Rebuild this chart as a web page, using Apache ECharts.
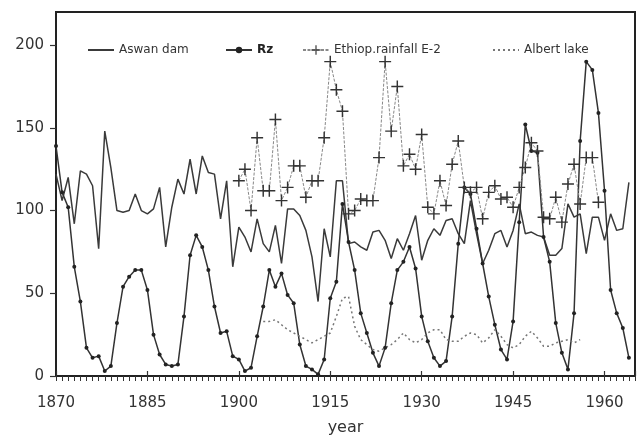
<!DOCTYPE html>
<html>
<head>
<meta charset="utf-8">
<script src="https://cdn.jsdelivr.net/npm/echarts@6/dist/echarts.min.js"></script>
<style>
  html, body { margin: 0; padding: 0; background: #fff; }
  #main { width: 638px; height: 441px; }
</style>
</head>
<body>
<div id="main"></div>
<script>
// yearly values
var aswanStart = 1870;
var aswanDam = [122, 106, 120, 92, 124, 122, 115, 77, 148, 126,
    100, 99, 100, 110, 100, 98, 101, 114, 78, 102,
    119, 110, 131, 110, 133, 123, 122, 95, 118, 66,
    90, 84, 75, 95, 80, 75, 91, 68, 101, 101,
    97, 88, 72, 45, 89, 72, 118, 118, 80, 81,
    78, 76, 87, 88, 82, 71, 83, 76, 86, 97,
    70, 82, 89, 85, 94, 95, 86, 80, 106, 86,
    68, 76, 86, 88, 78, 88, 104, 86, 87, 85,
    84, 73, 73, 77, 104, 96, 98, 74, 96, 96,
    82, 98, 88, 89, 117];

var rzStart = 1870;
var rz = [139, 111, 102, 66, 45, 17, 11, 12, 3, 6,
    32, 54, 60, 64, 64, 52, 25, 13, 7, 6,
    7, 36, 73, 85, 78, 64, 42, 26, 27, 12,
    10, 3, 5, 24, 42, 64, 54, 62, 49, 44,
    19, 6, 4, 1, 10, 47, 57, 104, 81, 64,
    38, 26, 14, 6, 17, 44, 64, 69, 78, 65,
    36, 21, 11, 6, 9, 36, 80, 114, 110, 89,
    68, 48, 31, 16, 10, 33, 93, 152, 136, 135,
    84, 69, 32, 14, 4, 38, 142, 190, 185, 159,
    112, 52, 38, 29, 11];

var ethiopStart = 1900;
var ethiopRain = [118, 125, 100, 144, 112, 112, 155, 106, 114, 127,
    127, 108, 118, 118, 144, 190, 173, 160, 98, 100,
    107, 106, 106, 132, 190, 148, 175, 127, 134, 125,
    146, 102, 98, 118, 103, 128, 142, 114, 111, 114,
    95, 111, 115, 107, 108, 102, 114, 126, 141, 136,
    96, 95, 108, 93, 116, 128, 104, 132, 132, 105];

var albertStart = 1904;
var albertLake = [33, 33, 34, 31, 28, 26, 24, 22, 20, 22,
    24, 26, 36, 47, 48, 30, 22, 19, 16, 15,
    17, 19, 22, 26, 22, 20, 22, 26, 28, 28,
    22, 21, 21, 24, 26, 25, 20, 23, 28, 24,
    19, 17, 19, 24, 27, 23, 18, 18, 20, 21,
    22, 20, 22];

var yTicks = [0, 50, 100, 150, 200];
var xTicks = [1870, 1885, 1900, 1915, 1930, 1945, 1960];

function pairs(start, values) {
    return values.map(function (v, i) { return [start + i, v]; });
}

var plusPath = 'path://M0,4.4H4.4V0H5.6V4.4H10V5.6H5.6V10H4.4V5.6H0Z';
var legendText = { fontFamily: 'DejaVu Sans', fontSize: 12, color: '#333' };
// line-only legend entries: hide the default marker
var noMarker = { color: 'rgba(0,0,0,0)', borderWidth: 0 };

var option = {
    backgroundColor: '#fff',
    animation: false,
    grid: {
        left: 56, right: -3, top: 12, bottom: 59,
        show: true, borderColor: '#222', borderWidth: 2
    },
    legend: [
        { data: [{ name: 'Aswan dam', itemStyle: noMarker }], left: 82, top: 39, itemWidth: 26, itemHeight: 10,
          textStyle: legendText, selectedMode: false },
        { data: ['Rz'], left: 220, top: 39, itemWidth: 26, itemHeight: 8, selectedMode: false,
          textStyle: { fontFamily: 'DejaVu Sans', fontSize: 12, color: '#222', fontWeight: 'bold' } },
        { data: ['Ethiop.rainfall E-2'], left: 297, top: 39, itemWidth: 26, itemHeight: 12,
          textStyle: legendText, selectedMode: false },
        { data: [{ name: 'Albert lake', itemStyle: noMarker }], left: 487, top: 39, itemWidth: 26, itemHeight: 10,
          textStyle: legendText, selectedMode: false }
    ],
    xAxis: [
        {
            type: 'value',
            min: 1870, max: 1965, interval: 1,
            name: 'year', nameLocation: 'middle', nameGap: 44,
            nameTextStyle: { fontFamily: 'DejaVu Sans', fontSize: 16, color: '#333' },
            axisLine: { lineStyle: { color: '#222', width: 2 } },
            axisTick: { length: 5, lineStyle: { color: '#333', width: 1 } },
            axisLabel: {
                margin: 20, fontFamily: 'DejaVu Sans', fontSize: 15, color: '#333',
                formatter: function (v) { return xTicks.indexOf(v) >= 0 ? String(v) : ''; }
            },
            splitLine: { show: false }
        },
        {
            // longer marks at the labelled years
            type: 'value', position: 'bottom',
            min: 1870, max: 1965, interval: 15,
            axisLine: { show: false },
            axisTick: { inside: true, length: 5, lineStyle: { color: '#333', width: 1.2 } },
            axisLabel: { show: false },
            splitLine: { show: false }
        }
    ],
    yAxis: {
        type: 'value',
        min: 0, max: 220, interval: 50,
        axisLine: { show: true, lineStyle: { color: '#222', width: 2 } },
        axisTick: { show: true, length: 6, customValues: yTicks, lineStyle: { color: '#333', width: 1.2 } },
        axisLabel: {
            margin: 12, fontFamily: 'DejaVu Sans', fontSize: 15, color: '#333',
            customValues: yTicks
        },
        splitLine: { show: false }
    },
    series: [
        {
            name: 'Aswan dam', type: 'line',
            data: pairs(aswanStart, aswanDam),
            symbol: 'none',
            lineStyle: { color: '#3a3a3a', width: 1.5 },
            itemStyle: { color: '#3a3a3a' }
        },
        {
            name: 'Rz', type: 'line',
            data: pairs(rzStart, rz),
            symbol: 'circle', symbolSize: 4,
            lineStyle: { color: '#333', width: 1.5 },
            itemStyle: { color: '#222' }
        },
        {
            name: 'Ethiop.rainfall E-2', type: 'line',
            data: pairs(ethiopStart, ethiopRain),
            symbol: plusPath, symbolSize: 12,
            lineStyle: { color: '#888', width: 1, type: [3, 1.5] },
            itemStyle: { color: '#333' }
        },
        {
            name: 'Albert lake', type: 'line',
            data: pairs(albertStart, albertLake),
            symbol: 'none',
            lineStyle: { color: '#777', width: 1.5, type: [2, 3] },
            itemStyle: { color: '#777' }
        }
    ]
};

var myChart = echarts.init(document.getElementById('main'));
myChart.setOption(option);
</script>
</body>
</html>
